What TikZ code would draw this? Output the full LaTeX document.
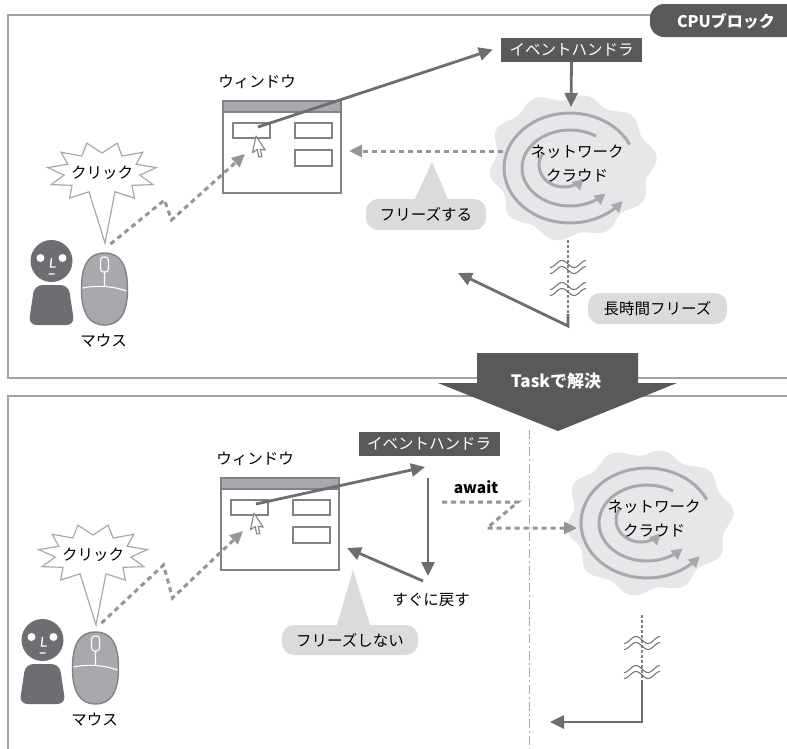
\documentclass[tikz,border=0pt]{standalone}
\usepackage{fontspec}
\setmainfont{Noto Sans CJK JP}
\usetikzlibrary{arrows.meta}

\definecolor{darkbox}{HTML}{58595B}
\definecolor{linegray}{HTML}{6D6E71}
\definecolor{dashgray}{HTML}{939598}
\definecolor{framegray}{HTML}{A0A2A5}
\definecolor{midgray}{HTML}{A7A9AC}
\definecolor{edgegray}{HTML}{808285}
\definecolor{cloudfill}{HTML}{E6E7E8}
\definecolor{bubblegray}{HTML}{DADBDC}

\tikzset{
  txt/.style={inner sep=1pt, font=\fontsize{15.5}{18}\selectfont},
  tag/.style={fill=darkbox, text=white, inner sep=0pt, minimum width=141pt, minimum height=24pt, font=\fontsize{15.5}{18}\selectfont},
  bubble/.style={fill=bubblegray, rounded corners=12pt, inner sep=0pt, minimum height=31pt, font=\fontsize{15.5}{18}\selectfont},
  arr/.style={draw=linegray, line width=2.8pt, -{Triangle[length=14pt,width=13pt]}},
  dsh/.style={draw=dashgray, line width=3pt, dash pattern=on 5pt off 4pt, -{Triangle[length=13pt,width=12pt]}},
  vdot/.style={draw=edgegray, line width=1.6pt, dash pattern=on 3pt off 2pt},
  divline/.style={draw=midgray, line width=1pt, dash pattern=on 9pt off 3pt on 2pt off 3pt},
  spiral/.style={draw=midgray, line width=3pt, -{Triangle[length=11pt,width=11pt]}},
  frame/.style={draw=framegray, line width=1.2pt},
  % application window, origin at its top left corner
  appwin/.pic={
    \node[txt] (-lbl) at (34,-19) {ウィンドウ};
    \draw[edgegray, line width=1.5pt, fill=white] (0,0) rectangle (118,92);
    \draw[edgegray, line width=1.5pt, fill=midgray] (0,0) rectangle (118,11);
    \draw[edgegray, line width=1.3pt] (10,22) rectangle (47,37) (72,22) rectangle (109,37) (72,49) rectangle (109,65);
    \coordinate (-btn) at (35,26);
    \coordinate (-in) at (22,53);
    \coordinate (-ra) at (126,50);
    \coordinate (-rb) at (126,70);
    \draw[edgegray, line width=1.1pt, fill=white, line join=round, shift={(33,35)}, rotate=-12]
      (0,0) -- (0,17) -- (4,13) -- (7,20) -- (10,19) -- (7,12) -- (12,12) -- cycle;
  },
  % cloud with spirals, origin at its centre
  netcloud/.pic={
    \fill[cloudfill] plot[smooth cycle, domain=0:356, samples=90, variable=\t]
      ({80*(1+0.05*sin(10*\t+20)+0.03*sin(3*\t+50))*cos(\t)}, {-70*(1+0.05*sin(10*\t+20)+0.03*sin(3*\t+50))*sin(\t)});
    \begin{scope}[shift={(-1,2)}]
      \draw[spiral] plot[domain=25:323, samples=50, variable=\t] ({66*cos(\t)}, {-55*sin(\t)});
      \draw[spiral] plot[domain=57:318, samples=45, variable=\t] ({48*cos(\t)}, {-38*sin(\t)});
      \draw[spiral] plot[domain=150:322, samples=30, variable=\t] ({-6+25*cos(\t)}, {-3-22*sin(\t)});
    \end{scope}
    \node[txt, align=center, font=\fontsize{15.5}{24}\selectfont] (-lbl) at (6,-2) {ネットワーク\\クラウド};
    \coordinate (-top) at (0,-59);
  },
  % click burst, origin at its centre
  burst/.pic={
    \draw[midgray, line width=1.2pt, fill=white] (3,70)
      \foreach \a [count=\i] in {-70,-54,...,250} { -- ({(mod(\i,2)==1 ? 38 : 55)*cos(\a)}, {-(mod(\i,2)==1 ? 20 : 31)*sin(\a)}) } -- cycle;
    \node[txt] (-lbl) at (0,0) {クリック};
  },
  % user and mouse, origin at the centre of the mouse
  user/.pic={
    \fill[linegray] (-53,-28) circle[radius=21];
    \fill[white] (-64,-31) circle[radius=4] (-42,-31) circle[radius=4];
    \draw[white, line width=1.4pt] (-53,-31) -- (-54,-22) -- (-49,-22) (-56,-15) -- (-50,-15);
    \fill[linegray, rounded corners=8pt] (-76,36) -- (-70,-4) -- (-36,-4) -- (-30,36) -- cycle;
    \draw[edgegray, fill=midgray, line width=1.4pt] (0,-36) .. controls (16,-36) and (23,-24) .. (23,0)
      .. controls (23,26) and (14,36) .. (0,36) .. controls (-14,36) and (-23,26) .. (-23,0)
      .. controls (-23,-24) and (-16,-36) .. (0,-36) -- cycle;
    \draw[white, line width=1.1pt] (0,-17) -- (0,-2) (-22,-1) .. controls (-8,-4) and (8,-3) .. (22,2);
    \draw[white, fill=midgray, line width=1.1pt, rounded corners=3pt] (-4,-32) rectangle (4,-17);
    \node[txt] (-lbl) at (-1,52) {マウス};
    \coordinate (-go) at (6,-45);
  },
  % break mark on a long wait
  brk/.pic={
    \draw[linegray, line width=1pt] plot[domain=-18:18, samples=30] (\x, {3.5*sin(15*\x)})
      plot[domain=-18:18, samples=30] (\x, {6+3.5*sin(15*\x)});
  },
}

\begin{document}
\begin{tikzpicture}[x=1pt, y=-1pt]
  \useasboundingbox (0,0) rectangle (787,748);
  \clip (0,0) rectangle (787,748);
  \fill[white] (0,0) rectangle (787,748);

  % two panels
  \draw[frame] (8,15) rectangle (800,378);
  \draw[frame] (8,396) rectangle (800,770);
  \fill[darkbox, rounded corners=14pt] (650,4) rectangle (800,37);
  \node[txt, text=white, font=\bfseries\fontsize{16}{18}\selectfont] (cpu) at (726,21) {CPUブロック};

  % --- blocking case ---
  \pic (tu) at (104.5,289) {user};
  \pic (tb) at (102,173) {burst};
  \pic (wt) at (223,101) {appwin};
  \node[tag] (eh1) at (571.5,49.5) {イベントハンドラ};
  \pic (ct) at (571,166) {netcloud};
  \coordinate (frz) at (503,151);

  \draw[dsh] (tu-go) -- ++(54,-44) -- ++(7,20) -- (wt-in);
  \draw[arr] (wt-btn) -- ([xshift=-8pt]eh1.west);
  \draw[arr] (eh1.south) -- (ct-top);
  \draw[dsh] (frz) -- (wt-ra);

  \fill[bubblegray] (415,199) -- (432,162) -- (448,199) -- cycle;
  \node[bubble, minimum width=120pt] (fz1) at (426,214.5) {フリーズする};

  \coordinate (dn1) at (568,240);
  \coordinate (cn1) at (568,326);
  \coordinate (lf1) at (458,273);
  \draw[vdot] (dn1) -- (cn1);
  \pic at (568,264) {brk};
  \pic at (568,286) {brk};
  \draw[arr] ([yshift=12pt]cn1) -- (cn1) -- (lf1);
  \node[bubble, minimum width=139pt] (lt) at (657.5,308.5) {長時間フリーズ};

  % --- with Task ---
  \draw[divline] (529,430) -- (529,748);
  \pic (bu) at (95.5,668) {user};
  \pic (bb) at (93,555) {burst};
  \pic (wb) at (221,478) {appwin};
  \node[tag] (eh2) at (429,443.5) {イベントハンドラ};
  \pic (cb) at (648,521) {netcloud};

  \coordinate (cl2) at (425,467);
  \coordinate (dt2) at (428,478);
  \coordinate (db2) at (428,576);
  \coordinate (rt2) at (423,581);
  \draw[dsh] (bu-go) -- ++(62,-58) -- ++(9,33) -- (wb-in);
  \draw[arr] (wb-btn) -- (cl2);
  \draw[arr] (dt2) -- (db2);
  \draw[arr] (rt2) -- (wb-rb);
  \node[txt] (back) at (431,600) {すぐに戻す};

  \coordinate (aw0) at (442,502);
  \coordinate (awtip) at (577,528);
  \node[txt, font=\bfseries\fontsize{15.5}{18}\selectfont] (aw) at (476,487) {await};
  \draw[dsh] (aw0) -- ++(76,0) -- ++(-31,26) -- (awtip);

  \fill[bubblegray] (337,625) -- (353,570) -- (370,625) -- cycle;
  \node[bubble, minimum width=136pt, minimum height=30pt] (fz2) at (350,640) {フリーズしない};

  \coordinate (dn2) at (642,615);
  \coordinate (cn2) at (642,722);
  \coordinate (lf2) at (550,722);
  \draw[vdot] (dn2) -- ([yshift=42pt]cn2);
  \pic at (642,640) {brk};
  \pic at (642,669) {brk};
  \draw[arr] ([yshift=42pt]cn2) -- (cn2) -- (lf2);

  % arrow between the panels
  \fill[darkbox] (477,353) -- (638,353) -- (638,383) -- (677,383) -- (558,431) -- (438,383) -- (477,383) -- cycle;
  \node[txt, text=white, font=\bfseries\fontsize{17}{18}\selectfont] (task) at (556,381) {Taskで解決};
\end{tikzpicture}
\end{document}
